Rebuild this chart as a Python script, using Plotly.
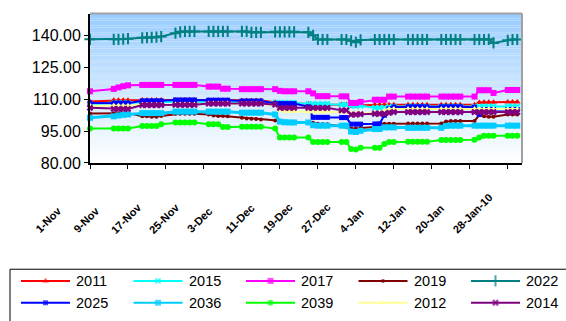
import plotly.graph_objects as go

W, H = 566, 321
FONT = "Liberation Sans, Arial, sans-serif"

# Trading dates (weekday clusters)
dates = [
    "2009-11-01",
    "2009-11-06", "2009-11-07", "2009-11-08", "2009-11-09",
    "2009-11-12", "2009-11-13", "2009-11-14", "2009-11-15", "2009-11-16",
    "2009-11-19", "2009-11-20", "2009-11-21", "2009-11-22", "2009-11-23",
    "2009-11-26", "2009-11-27", "2009-11-28", "2009-11-29", "2009-11-30",
    "2009-12-03", "2009-12-04", "2009-12-05", "2009-12-06", "2009-12-07",
    "2009-12-10", "2009-12-11", "2009-12-12", "2009-12-13", "2009-12-14",
    "2009-12-17", "2009-12-18", "2009-12-19", "2009-12-20", "2009-12-21",
    "2009-12-24", "2009-12-25", "2009-12-26", "2009-12-27", "2009-12-28",
    "2009-12-31", "2010-01-01", "2010-01-02", "2010-01-03", "2010-01-04",
    "2010-01-07", "2010-01-08", "2010-01-09", "2010-01-10", "2010-01-11",
    "2010-01-14", "2010-01-15", "2010-01-16", "2010-01-17", "2010-01-18",
    "2010-01-21", "2010-01-22", "2010-01-23", "2010-01-24", "2010-01-25",
    "2010-01-28", "2010-01-29", "2010-01-30",
]

y2011 = [109.0,
         109.6, 109.6, 109.6, 109.6,
         109.7, 109.7, 109.7, 109.7, 109.7,
         109.7, 109.7, 109.7, 109.7, 109.7,
         109.6, 109.6, 109.6, 109.6, 109.6,
         109.5, 109.5, 109.5, 109.5, 109.5,
         108.6, 108.3, 108.2, 108.2, 108.2,
         107.8, 107.6, 107.5, 107.5, 107.5,
         107.5, 107.5, 106.8, 106.8, 107.2,
         107.4, 107.4, 107.4, 107.4, 107.4,
         107.5, 107.5, 107.5, 107.5, 107.5,
         107.5, 107.5, 107.5, 107.5, 107.5,
         107.5, 108.5, 108.6, 108.6, 108.6,
         108.7, 108.7, 108.7]

y2015 = [107.8,
         108.3, 108.3, 108.3, 108.3,
         108.8, 108.8, 108.8, 108.8, 108.8,
         109.0, 109.0, 109.0, 109.0, 109.0,
         109.0, 109.0, 109.0, 109.0, 109.0,
         108.6, 108.6, 108.6, 108.6, 108.6,
         108.4, 108.4, 108.4, 108.4, 108.4,
         107.8, 107.8, 107.8, 107.8, 107.8,
         107.5, 107.5, 106.9, 106.9, 107.0,
         106.0, 106.0, 106.0, 106.4, 106.6,
         106.6, 106.6, 106.6, 106.6, 106.6,
         106.6, 106.6, 106.6, 106.6, 106.6,
         106.6, 106.6, 106.6, 106.6, 106.6,
         106.6, 106.6, 106.6]

y2017 = [113.8,
         114.9, 115.6, 116.2, 116.6,
         116.8, 116.8, 116.8, 116.8, 116.8,
         116.8, 116.8, 116.8, 116.8, 116.8,
         116.0, 116.0, 116.0, 115.0, 115.0,
         114.8, 114.8, 114.8, 114.8, 114.8,
         114.8, 114.0, 113.8, 113.8, 113.8,
         113.8, 112.8, 111.5, 111.5, 111.5,
         111.4, 111.4, 108.3, 108.3, 108.8,
         109.8, 109.8, 109.8, 111.3, 111.3,
         111.3, 111.3, 111.3, 111.3, 111.3,
         111.3, 111.3, 111.3, 111.3, 111.3,
         111.3, 114.3, 114.3, 114.3, 113.0,
         114.4, 114.4, 114.4]

y2019 = [103.3,
         103.5, 103.5, 103.5, 103.5,
         102.0, 102.0, 101.8, 101.8, 102.2,
         103.2, 103.2, 103.2, 103.2, 103.2,
         102.8, 102.4, 102.2, 102.2, 102.0,
         101.3, 101.0, 100.8, 100.7, 100.5,
         100.0, 99.7, 99.5, 99.4, 99.3,
         99.1, 99.0, 98.5, 98.3, 98.3,
         97.5, 97.1, 96.3, 96.2, 96.5,
         97.0, 98.3, 98.5, 98.5, 98.5,
         98.6, 98.6, 98.6, 98.6, 98.6,
         98.6, 99.5, 99.8, 99.8, 99.8,
         99.8, 102.6, 102.0, 101.8, 101.8,
         102.8, 102.8, 102.8]

y2022 = [138.3,
         138.3, 138.3, 138.4, 138.6,
         139.0, 139.1, 139.2, 139.3, 139.6,
         141.2, 141.8, 142.0, 142.0, 142.0,
         142.0, 142.0, 142.0, 142.0, 142.0,
         142.0, 142.0, 141.6, 141.6, 141.6,
         141.8, 141.8, 141.8, 141.8, 141.8,
         141.6, 140.2, 138.2, 138.2, 138.2,
         138.2, 138.2, 137.6, 136.9, 138.0,
         138.2, 138.2, 138.2, 138.2, 138.2,
         138.2, 138.2, 138.2, 138.2, 138.2,
         138.2, 138.2, 138.2, 138.2, 138.2,
         138.2, 138.2, 138.2, 138.3, 136.6,
         137.8, 138.2, 138.2]

y2025 = [108.3,
         108.2, 108.2, 108.2, 108.2,
         109.3, 109.3, 109.3, 109.3, 109.3,
         109.7, 109.7, 109.7, 109.7, 109.7,
         109.6, 109.6, 109.6, 109.6, 109.6,
         109.2, 109.2, 109.2, 109.2, 109.2,
         108.0, 108.0, 108.0, 108.0, 108.0,
         106.5, 101.5, 101.5, 101.5, 101.5,
         101.4, 101.4, 98.3, 98.3, 98.3,
         98.4, 98.5, 102.5, 105.6, 106.4,
         106.5, 106.5, 106.5, 106.5, 106.5,
         106.5, 106.5, 106.5, 106.5, 106.5,
         106.3, 102.9, 105.2, 105.2, 105.2,
         105.2, 105.2, 105.2]

y2036 = [101.3,
         102.0, 102.4, 102.7, 102.9,
         103.5, 103.5, 103.5, 103.5, 103.5,
         104.2, 104.2, 104.2, 104.2, 104.2,
         104.2, 104.2, 104.2, 104.2, 104.2,
         103.7, 103.7, 103.7, 103.7, 103.7,
         102.9, 99.5, 99.2, 99.1, 99.1,
         99.1, 97.8, 97.6, 97.6, 97.6,
         97.6, 97.6, 94.8, 94.6, 95.2,
         96.0, 96.0, 96.8, 96.8, 96.8,
         96.6, 96.6, 96.6, 96.6, 96.6,
         96.6, 97.5, 97.6, 97.6, 97.6,
         97.6, 97.6, 97.6, 97.6, 97.6,
         97.6, 97.6, 97.6]

y2039 = [96.3,
         96.3, 96.3, 96.3, 96.3,
         97.4, 97.4, 97.4, 97.4, 98.3,
         99.1, 99.1, 99.1, 99.1, 99.1,
         98.3, 98.3, 98.3, 97.0, 97.0,
         97.1, 97.1, 97.1, 97.1, 97.1,
         96.2, 92.0, 92.0, 92.0, 92.0,
         92.0, 89.9, 89.9, 89.9, 89.9,
         89.9, 89.9, 86.6, 86.4, 87.2,
         87.2, 87.2, 89.0, 89.9, 89.9,
         90.0, 90.0, 90.0, 90.0, 90.0,
         90.8, 90.8, 90.8, 90.8, 90.8,
         91.0, 92.0, 92.8, 92.8, 92.8,
         92.8, 92.8, 92.8]

y2012 = [107.0,
         107.0, 107.0, 107.0, 107.0,
         107.5, 107.5, 107.5, 107.5, 107.5,
         107.6, 107.6, 107.6, 107.6, 107.6,
         108.0, 108.0, 108.0, 108.0, 108.0,
         107.8, 107.8, 107.8, 107.8, 107.8,
         107.2, 104.8, 104.4, 104.3, 104.3,
         104.2, 104.2, 104.2, 104.2, 104.2,
         104.0, 104.0, 103.4, 103.4, 103.5,
         103.8, 103.8, 104.8, 105.4, 105.4,
         105.5, 105.5, 105.5, 105.5, 105.5,
         105.5, 105.5, 105.5, 105.5, 105.5,
         105.5, 105.5, 105.5, 105.5, 105.5,
         105.5, 105.5, 105.5]

y2014 = [106.0,
         105.5, 105.5, 105.5, 105.5,
         107.3, 107.3, 107.3, 107.3, 107.3,
         107.4, 107.4, 107.4, 107.4, 107.4,
         108.0, 108.0, 108.0, 108.0, 108.0,
         108.0, 108.0, 108.0, 108.0, 108.0,
         107.5, 106.0, 106.0, 106.0, 106.0,
         106.0, 106.0, 106.0, 106.0, 106.0,
         104.8, 104.8, 102.8, 102.8, 103.0,
         103.2, 103.2, 103.2, 103.6, 104.0,
         104.0, 104.0, 104.0, 104.0, 104.0,
         104.0, 104.0, 104.0, 104.0, 104.0,
         104.0, 104.0, 104.0, 104.0, 104.0,
         104.0, 104.0, 104.0]

x_tick_vals = ["2009-11-01", "2009-11-09", "2009-11-17", "2009-11-25",
               "2009-12-03", "2009-12-11", "2009-12-19", "2009-12-27",
               "2010-01-04", "2010-01-12", "2010-01-20", "2010-01-28"]
x_tick_text = ["1-Nov", "9-Nov", "17-Nov", "25-Nov", "3-Dec", "11-Dec",
               "19-Dec", "27-Dec", "4-Jan", "12-Jan", "20-Jan", "28-Jan-10"]
y_tick_vals = [80, 95, 110, 125, 140]

# name, values, colour, marker symbol, marker size, marker outline, line width
series = [
    ("2011", y2011, "#FF0000", "triangle-up", 6, 0, 2),
    ("2015", y2015, "#00FFFF", "x-thin", 5, 2, 2),
    ("2017", y2017, "#FF00FF", "square", 6, 0, 2),
    ("2019", y2019, "#800000", "circle", 4, 0, 2),
    ("2022", y2022, "#008080", "cross-thin", 8, 2, 2),
    ("2025", y2025, "#0000FF", "square", 5, 0, 2),
    ("2036", y2036, "#00CCFF", "square", 6, 0, 3),
    ("2039", y2039, "#00FF00", "circle", 6, 0, 2),
    ("2012", y2012, "#FFFF99", "triangle-up", 6, 0, 2),
    ("2014", y2014, "#800080", "x", 6, 0, 2),
]

# plot area in pixels
PL, PR, PT, PB = 90, 522, 14, 167.7

fig = go.Figure()

for name, ys, color, sym, size, mlw, lw in series:
    fig.add_trace(go.Scatter(
        x=dates, y=ys, name=name, mode="lines+markers",
        line=dict(color=color, width=lw),
        marker=dict(symbol=sym, size=size, color=color,
                    line=dict(color=color, width=mlw)),
        cliponaxis=False, showlegend=False, hoverinfo="skip"))

# hand-drawn legend on a pixel-space overlay axis
LEG_X0, LEG_DX, LEG_Y0, LEG_DY, SAMPLE = 21, 112.5, 289, 22.5, 49
annotations = []
for i, (name, ys, color, sym, size, mlw, lw) in enumerate(series):
    r, c = divmod(i, 5)
    x0 = LEG_X0 + LEG_DX * c
    yc = LEG_Y0 + LEG_DY * r
    fig.add_trace(go.Scatter(
        x=[x0, x0 + SAMPLE / 2, x0 + SAMPLE], y=[yc, yc, yc],
        xaxis="x2", yaxis="y2", mode="lines+markers",
        line=dict(color=color, width=2),
        marker=dict(symbol=sym, size=[0, size, 0], color=color,
                    line=dict(color=color, width=mlw)),
        showlegend=False, hoverinfo="skip"))
    annotations.append(dict(
        x=x0 + SAMPLE + 4, y=yc, xref="x2", yref="y2", text=name,
        showarrow=False, xanchor="left", yanchor="middle",
        font=dict(family=FONT, size=14.5, color="black")))

# rotated date labels under the x axis
for tv, tt in zip(x_tick_vals, x_tick_text):
    annotations.append(dict(
        x=tv, y=1 - 245 / H, xref="x", yref="paper", text="<b>%s</b>" % tt,
        showarrow=False, textangle=-45, xanchor="left", yanchor="bottom",
        xshift=-60, font=dict(family=FONT, size=11, color="black")))

# vertical gradient background of the plot area
shapes = []
N = 64
top = (153, 204, 255)
for k in range(N):
    t = (k + 0.5) / N
    col = tuple(round(255 + (tc - 255) * t) for tc in top)
    shapes.append(dict(type="rect", xref="x domain", yref="y domain",
                       x0=0, x1=1, y0=k / N, y1=(k + 1) / N,
                       fillcolor="rgb(%d,%d,%d)" % col,
                       line=dict(width=0), layer="below"))
# grey frame on top and right
shapes.append(dict(type="line", xref="x domain", yref="y domain",
                   x0=0, x1=1, y0=1, y1=1, line=dict(color="#A0A0A0", width=2)))
shapes.append(dict(type="line", xref="x domain", yref="y domain",
                   x0=1, x1=1, y0=0, y1=1, line=dict(color="#A0A0A0", width=2)))
# legend box
shapes.append(dict(type="rect", xref="paper", yref="paper",
                   x0=10 / W, x1=1.05, y0=-0.1, y1=1 - 277 / H,
                   line=dict(color="black", width=1), layer="below"))

fig.update_layout(
    width=W, height=H, autosize=False,
    margin=dict(l=0, r=0, t=0, b=0, pad=0),
    paper_bgcolor="white", plot_bgcolor="rgba(0,0,0,0)",
    showlegend=False,
    xaxis=dict(type="date", domain=[PL / W, PR / W],
               range=["2009-11-01", "2010-01-31"],
               tickvals=x_tick_vals, showticklabels=False,
               ticks="outside", ticklen=4, tickwidth=1, tickcolor="black",
               showline=True, linecolor="black", linewidth=2,
               showgrid=False, zeroline=False, anchor="y", fixedrange=True),
    yaxis=dict(domain=[1 - PB / H, 1 - PT / H], range=[80, 150.4],
               tickvals=y_tick_vals, tickformat=".2f",
               ticks="outside", ticklen=4, tickwidth=1, tickcolor="black",
               showline=True, linecolor="black", linewidth=2,
               showgrid=False, zeroline=False, anchor="x",
               tickfont=dict(family=FONT, size=16, color="black"),
               fixedrange=True),
    xaxis2=dict(domain=[0, 1], range=[0, W], visible=False,
                anchor="y2", fixedrange=True),
    yaxis2=dict(domain=[0, 1], range=[H, 0], visible=False,
                anchor="x2", fixedrange=True),
    shapes=shapes, annotations=annotations,
)

fig.write_html("out.html")
